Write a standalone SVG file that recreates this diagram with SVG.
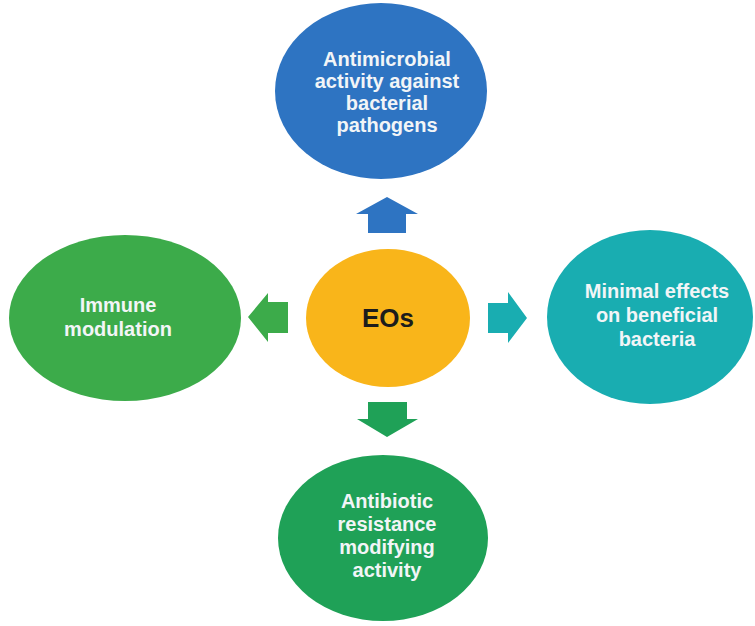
<svg xmlns="http://www.w3.org/2000/svg" width="755" height="626" viewBox="0 0 755 626">
<style>
.lbl{font-family:"Liberation Sans","DejaVu Sans",sans-serif;font-weight:bold;font-size:20px;fill:#f2f5f7;text-anchor:middle}
.ctr{font-family:"Liberation Sans","DejaVu Sans",sans-serif;font-weight:bold;font-size:26px;fill:#1c1c1c;text-anchor:middle}
</style>
<rect width="755" height="626" fill="#ffffff"/>
<g id="connectors">
<polygon id="arrow-up" points="368,233 368,214 356,214 387,197 418,214 406,214 406,233" fill="#2e74c2"/>
<polygon id="arrow-left" points="288,302 268,302 268,293 248,317 268,342 268,333 288,333" fill="#3cab4a"/>
<polygon id="arrow-right" points="488,303 508,303 508,292 527,318 508,343 508,333 488,333" fill="#19adb1"/>
<polygon id="arrow-down" points="368,402 407,402 407,419 418,419 387,437 357,419 368,419" fill="#1fa157"/>
</g>
<g id="node-top">
<ellipse cx="381" cy="91" rx="106" ry="88" fill="#2e74c2"/>
<text class="lbl" x="387" y="66">Antimicrobial</text>
<text class="lbl" x="387" y="88">activity against</text>
<text class="lbl" x="387" y="110">bacterial</text>
<text class="lbl" x="387" y="132">pathogens</text>
</g>
<g id="node-center">
<ellipse cx="388" cy="318" rx="82" ry="69" fill="#f9b51a"/>
<text class="ctr" x="388" y="327">EOs</text>
</g>
<g id="node-left">
<ellipse cx="125" cy="318" rx="116" ry="83" fill="#3cab4a"/>
<text class="lbl" x="118" y="312">Immune</text>
<text class="lbl" x="118" y="336">modulation</text>
</g>
<g id="node-right">
<ellipse cx="650" cy="317" rx="103" ry="87" fill="#19adb1"/>
<text class="lbl" x="657" y="298">Minimal effects</text>
<text class="lbl" x="657" y="322">on beneficial</text>
<text class="lbl" x="657" y="346">bacteria</text>
</g>
<g id="node-bottom">
<ellipse cx="383" cy="538" rx="105" ry="83" fill="#1fa157"/>
<text class="lbl" x="387" y="508">Antibiotic</text>
<text class="lbl" x="387" y="531">resistance</text>
<text class="lbl" x="387" y="554">modifying</text>
<text class="lbl" x="387" y="577">activity</text>
</g>
</svg>
